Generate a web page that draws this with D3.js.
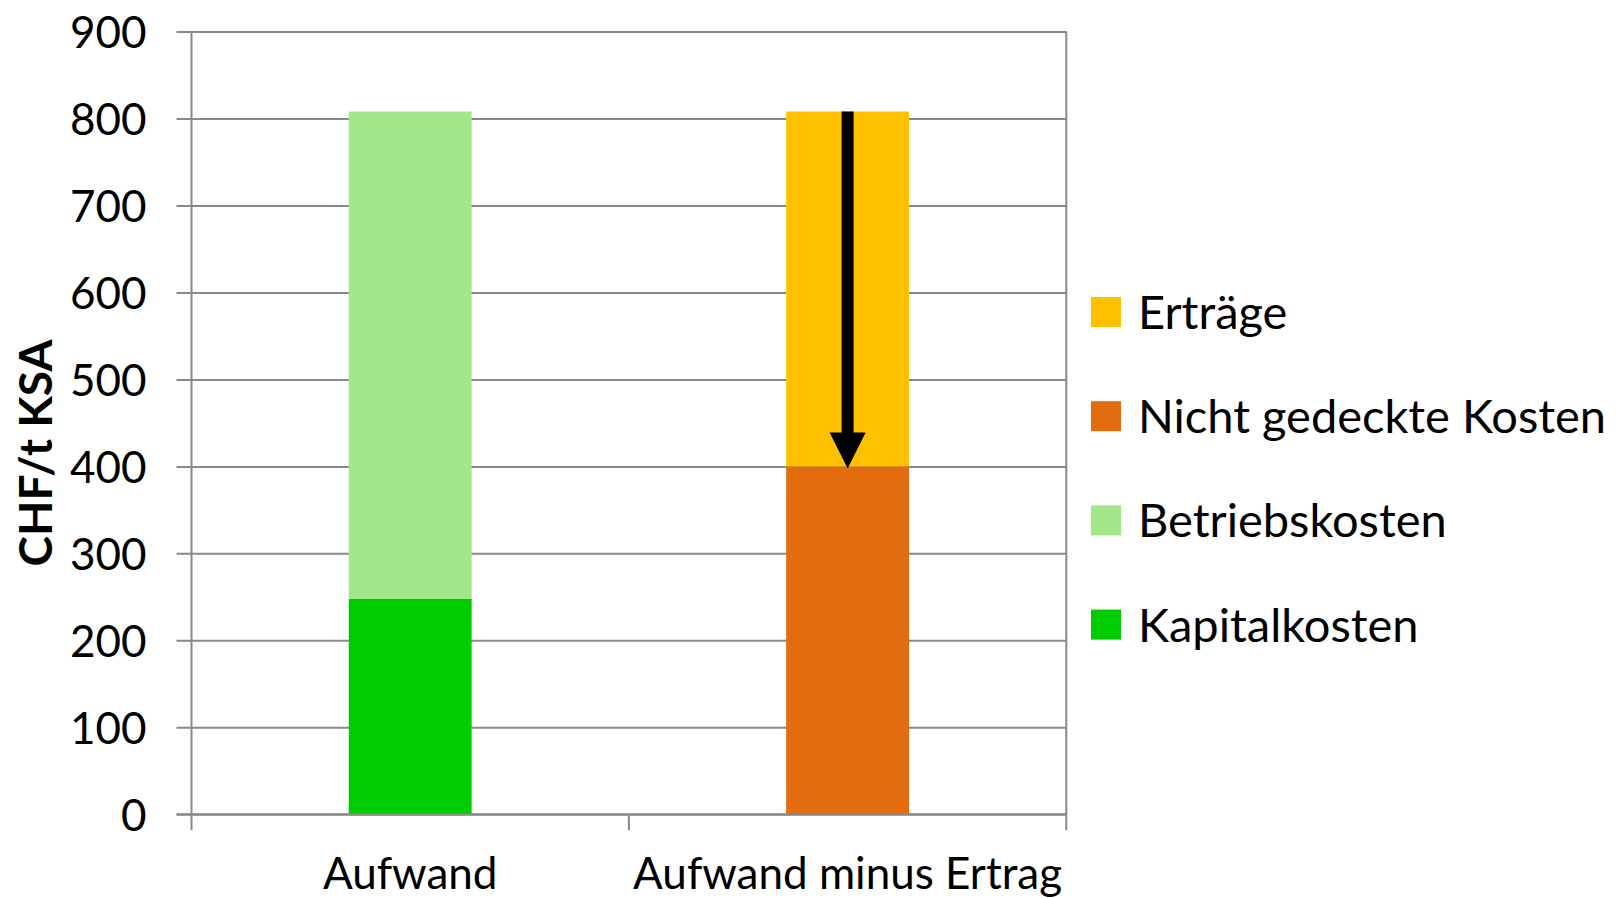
<!DOCTYPE html>
<html>
<head>
<meta charset="utf-8">
<script src="https://cdn.jsdelivr.net/npm/d3@7"></script>
<style>
  body { margin: 0; background: #fff; }
  svg { display: block; font-family: Lato, "Open Sans", sans-serif; }
</style>
</head>
<body>
<div id="chartArea"></div>
<script>
// values (CHF/t KSA)
var categories = ['Aufwand', 'Aufwand minus Ertrag'];
var kapitalkosten = [248, 0];
var betriebskosten = [560, 0];
var nichtGedeckt = [0, 400];
var ertraege = [0, 408];
var seriesNames = ['Kapitalkosten', 'Betriebskosten', 'Nicht gedeckte Kosten', 'Erträge'];
var seriesColors = ['#00cc00', '#a2e888', '#e36c0e', '#ffc000'];
var yTicks = [0, 100, 200, 300, 400, 500, 600, 700, 800, 900];

var W = 1624, H = 898;
var margin = {top: 31.5, left: 191.5, right: 557.7, bottom: 83.7};
var w = W - margin.left - margin.right,
    h = H - margin.top - margin.bottom;

var table = categories.map(function (c, i) {
    return {
        cat: c,
        'Kapitalkosten': kapitalkosten[i],
        'Betriebskosten': betriebskosten[i],
        'Nicht gedeckte Kosten': nichtGedeckt[i],
        'Erträge': ertraege[i]
    };
});
var stacked = d3.stack().keys(seriesNames)(table);

var svg = d3.select('#chartArea').append('svg')
    .attr('width', W)
    .attr('height', H);

var g = svg.append('g')
    .attr('transform', 'translate(' + margin.left + ',' + margin.top + ')');

var xScale = d3.scaleBand()
    .domain(categories)
    .range([0, w])
    .paddingInner(0.719)
    .paddingOuter(0.3595);

var yScale = d3.scaleLinear()
    .domain([0, 900])
    .range([h, 0]);

var gridColor = '#898989';

// horizontal grid lines, with ticks sticking out on the left
var yAxis = g.append('g')
    .call(d3.axisLeft(yScale).tickValues(yTicks).tickSize(15).tickPadding(30))
    .attr('font-family', null)
    .attr('font-size', null);
yAxis.select('.domain').remove();
yAxis.selectAll('.tick line')
    .attr('x2', w)
    .attr('x1', -15)
    .attr('stroke', gridColor)
    .attr('stroke-width', 2);
yAxis.selectAll('.tick text')
    .attr('fill', '#000')
    .style('font-size', '44px')
    .attr('dy', '0.36em');

// vertical axis lines (left, right) and category separators
var xBounds = [0, w / 2, w];
g.selectAll('line.vline')
    .data(xBounds)
    .enter()
    .append('line')
    .attr('class', 'vline')
    .attr('x1', function (d) { return d; })
    .attr('x2', function (d) { return d; })
    .attr('y1', function (d, i) { return i === 1 ? h : 0; })
    .attr('y2', h + 16)
    .attr('stroke', gridColor)
    .attr('stroke-width', 2);

// bars
g.selectAll('g.series')
    .data(stacked)
    .enter()
    .append('g')
    .attr('class', 'series')
    .attr('fill', function (d, i) { return seriesColors[i]; })
    .selectAll('rect')
    .data(function (d) { return d; })
    .enter()
    .append('rect')
    .attr('x', function (d) { return xScale(d.data.cat); })
    .attr('y', function (d) { return yScale(d[1]); })
    .attr('width', xScale.bandwidth())
    .attr('height', function (d) { return yScale(d[0]) - yScale(d[1]); });

// redraw baseline over bars
g.append('line')
    .attr('x1', -15)
    .attr('x2', w)
    .attr('y1', yScale(0))
    .attr('y2', yScale(0))
    .attr('stroke', gridColor)
    .attr('stroke-width', 2);

// category labels
g.selectAll('text.cat')
    .data(categories)
    .enter()
    .append('text')
    .attr('class', 'cat')
    .attr('x', function (d) { return xScale(d) + xScale.bandwidth() / 2; })
    .attr('y', 889 - margin.top)
    .attr('text-anchor', 'middle')
    .style('font-size', '44px')
    .text(function (d) { return d; });

// arrow: from top of second bar down to the uncovered costs
var ax = xScale(categories[1]) + xScale.bandwidth() / 2;
var yFrom = yScale(nichtGedeckt[1] + ertraege[1]);
var yTo = yScale(nichtGedeckt[1]) + 2;
var headH = 36, headW = 36, shaftW = 12;
g.append('rect')
    .attr('x', ax - shaftW / 2)
    .attr('y', yFrom)
    .attr('width', shaftW)
    .attr('height', yTo - headH - yFrom + 1)
    .attr('fill', '#000');
g.append('path')
    .attr('d', 'M' + (ax - headW / 2) + ',' + (yTo - headH) +
        'L' + (ax + headW / 2) + ',' + (yTo - headH) +
        'L' + ax + ',' + yTo + 'Z')
    .attr('fill', '#000');

// y axis title
svg.append('text')
    .attr('transform', 'translate(52,453) rotate(-90)')
    .attr('text-anchor', 'middle')
    .style('font-size', '46px')
    .style('font-weight', 'bold')
    .text('CHF/t KSA');

// legend (reverse order, top = Erträge)
var legendItems = seriesNames.slice().reverse();
var legendColors = seriesColors.slice().reverse();
var legend = svg.append('g')
    .attr('transform', 'translate(1091,297)');
var rows = legend.selectAll('g')
    .data(legendItems)
    .enter()
    .append('g')
    .attr('transform', function (d, i) { return 'translate(0,' + (i * 104.2) + ')'; });
rows.append('rect')
    .attr('width', 30)
    .attr('height', 30)
    .attr('fill', function (d, i) { return legendColors[i]; });
rows.append('text')
    .attr('x', 47)
    .attr('y', 15)
    .attr('dy', '0.36em')
    .style('font-size', '47px')
    .text(function (d) { return d; });
</script>
</body>
</html>
